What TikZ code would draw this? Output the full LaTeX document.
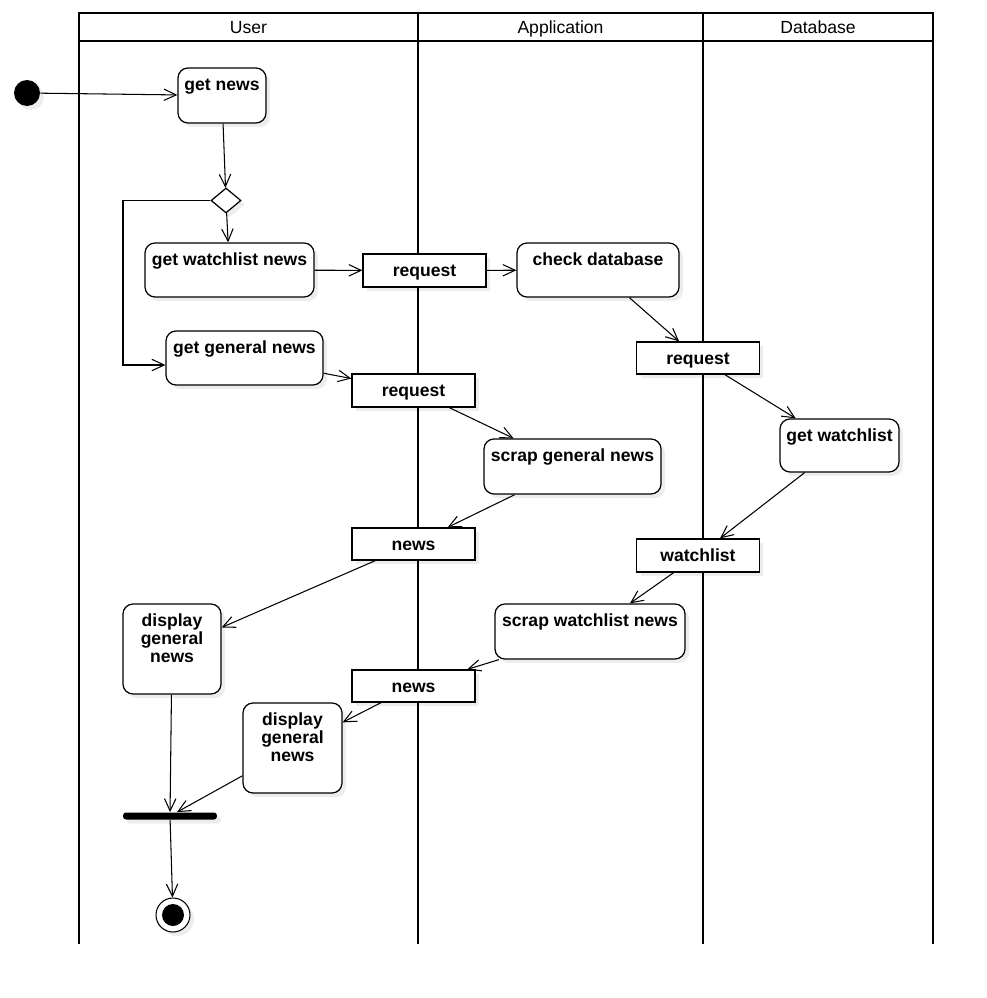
\documentclass[tikz,border=0pt]{standalone}
\usepackage{fontspec}
\setmainfont{Liberation Sans}
\usetikzlibrary{arrows.meta,shapes.geometric,shadows}

\begin{document}
\begin{tikzpicture}[x=0.02cm,y=-0.02cm,
    font=\fontsize{10pt}{10.2pt}\selectfont,
    >={Straight Barb[length=7pt,width=6.5pt]},
    flow/.style={->,line width=0.6pt},
    lane/.style={line width=1.4pt,line cap=rect},
    soft/.style={drop shadow={shadow xshift=0.08cm,shadow yshift=-0.08cm,opacity=0.07,fill=black}},
    act/.style={draw,line width=0.7pt,fill=white,rounded corners=0.2cm,soft,
        font=\fontsize{10pt}{10.2pt}\selectfont\bfseries,align=center,
        inner ysep=0pt,text height=0.44cm},
    obj/.style={draw,line width=0.7pt,fill=white,soft,
        font=\fontsize{10pt}{10.2pt}\selectfont\bfseries,
        text height=0.24cm,text depth=0cm,
        minimum width=2.46cm,minimum height=0.66cm,inner sep=0pt}]
    \useasboundingbox (0,0) rectangle (987,998);
    \draw[lane] (79,13) -- (933,13);
    \draw[lane] (79,41) -- (933,41);
    \foreach \x in {79,418,703,933}{
        \draw[lane] (\x,13) -- (\x,943);
    }
    \foreach \x/\lane in {248.5/User,560.5/Application,818/Database}{
        \node[anchor=base] (lane-\lane) at (\x,33.5) {\lane};
    }
    \node[circle,fill=black,minimum size=0.52cm,inner sep=0pt,soft] (start) at (27,93) {};
    \node[act,minimum width=1.76cm,text depth=0.66cm] (gn) at (222,95.5) {get news};
    \node[diamond,draw,line width=0.7pt,fill=white,soft,minimum width=0.6cm,minimum height=0.5cm,inner sep=0pt] (dia) at (226,200.5) {};
    \node[act,minimum width=3.38cm,text depth=0.64cm] (gwn) at (229.5,270) {get watchlist news};
    \node[act,minimum width=3.14cm,text depth=0.64cm] (gen) at (244.5,358) {get general news};
    \node[obj] (req1) at (424.5,270.5) {request};
    \node[act,minimum width=3.24cm,text depth=0.64cm] (chk) at (598,270) {check database};
    \node[obj,minimum height=0.64cm] (req2) at (698,358) {request};
    \node[obj] (req3) at (413.5,390.5) {request};
    \node[act,minimum width=2.38cm,text depth=0.62cm] (gw) at (839.5,445.5) {get watchlist};
    \node[act,minimum width=3.54cm,text depth=0.66cm] (sg) at (572.5,466.5) {scrap general news};
    \node[obj,minimum height=0.64cm] (news1) at (413.5,544) {news};
    \node[obj] (wl) at (698,555.5) {watchlist};
    \node[act,minimum width=3.8cm,text depth=0.66cm] (sw) at (590,631.5) {scrap watchlist news};
    \node[act,minimum width=1.96cm,text height=1.16cm,text depth=0.64cm] (disp1) at (172,649) {display\\general\\news};
    \node[obj,minimum height=0.64cm] (news2) at (413.5,686) {news};
    \node[act,minimum width=1.98cm,text height=1.16cm,text depth=0.64cm] (disp2) at (292.5,748) {display\\general\\news};
    \node[fill=black,rounded corners=0.06cm,minimum width=1.88cm,minimum height=0.14cm,inner sep=0pt,soft] (join) at (170,816) {};
    \node[circle,draw,line width=0.6pt,fill=white,minimum size=0.68cm,inner sep=0pt,soft] (stop) at (173,915) {};
    \fill (stop) circle (11);
    \coordinate (bend) at (123,365);
    \draw[flow] (start) -- (gn);
    \draw[flow] (gn) -- (dia);
    \draw[flow] (dia) -- (gwn);
    \draw[flow] (dia.west) -| (bend) -- (bend -| gen.west);
    \draw[flow] (gwn) -- (req1);
    \draw[flow] (req1) -- (chk);
    \draw[flow] (chk) -- (req2);
    \draw[flow] (req2) -- (gw);
    \draw[flow] (gw) -- (wl);
    \draw[flow] (wl) -- (sw);
    \draw[flow] (sw) -- (news2);
    \draw[flow] (news2) -- (disp2);
    \draw[flow] (gen) -- (req3);
    \draw[flow] (req3) -- (sg);
    \draw[flow] (sg) -- (news1);
    \draw[flow] (news1) -- (disp1);
    \draw[flow] (disp1) -- (join);
    \draw[flow] (disp2) -- (join);
    \draw[flow] (join) -- (stop);
\end{tikzpicture}
\end{document}
